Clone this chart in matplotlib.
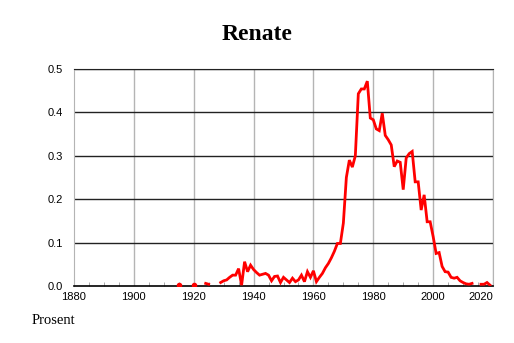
import numpy as np
import matplotlib
matplotlib.use("Agg")
import matplotlib.pyplot as plt
from matplotlib.ticker import MultipleLocator, FixedLocator

# share of people named Renate per year (percent), nan = no data
title = "Renate"
ylabel = "Prosent"
years = np.arange(1915, 2020)
values = [
    0.002, np.nan, np.nan, np.nan, np.nan,                                      # 1915-1919
    0.002, np.nan, np.nan, np.nan, 0.006, 0.004, np.nan, np.nan, np.nan, 0.008,  # 1920-1929
    0.012, 0.014, 0.020, 0.025, 0.025, 0.040, 0.002, 0.056, 0.033, 0.048,       # 1930-1939
    0.038, 0.031, 0.025, 0.027, 0.029, 0.025, 0.012, 0.022, 0.023, 0.008,       # 1940-1949
    0.020, 0.014, 0.008, 0.018, 0.010, 0.014, 0.025, 0.010, 0.033, 0.020,       # 1950-1959
    0.035, 0.010, 0.020, 0.029, 0.042, 0.052, 0.065, 0.080, 0.098, 0.098,       # 1960-1969
    0.145, 0.250, 0.290, 0.274, 0.300, 0.443, 0.454, 0.454, 0.472, 0.387,       # 1970-1979
    0.383, 0.362, 0.358, 0.398, 0.347, 0.337, 0.325, 0.275, 0.288, 0.285,       # 1980-1989
    0.222, 0.295, 0.305, 0.310, 0.240, 0.240, 0.175, 0.210, 0.148, 0.148,       # 1990-1999
    0.114, 0.075, 0.077, 0.045, 0.033, 0.032, 0.020, 0.018, 0.020, 0.012,       # 2000-2009
    0.008, 0.005, 0.004, 0.006, np.nan, np.nan, 0.004, 0.004, 0.008, 0.002,     # 2010-2019
]
values = np.array(values, dtype=float)
assert len(values) == len(years)

x_ticks = [1880, 1900, 1920, 1940, 1960, 1980, 2000, 2020]
y_ticks = [0.0, 0.1, 0.2, 0.3, 0.4, 0.5]

fig = plt.figure(figsize=(5.14, 3.43), dpi=100)
ax = fig.add_axes([74 / 514, 1 - 286 / 343, (493 - 74) / 514, (286 - 69) / 343])

# grid: grey verticals, black horizontals
for xv in x_ticks[1:]:
    ax.axvline(xv, color="#b4b4b4", lw=1, zorder=1)
for yv in y_ticks[1:]:
    ax.axhline(yv, color="#222222", lw=1, zorder=1)

ax.plot(years, values, color="#ff0000", lw=2, zorder=3, solid_joinstyle="miter")

# single years with no neighbours show up as dots
prev = np.r_[np.nan, values[:-1]]
nxt = np.r_[values[1:], np.nan]
lone = ~np.isnan(values) & np.isnan(prev) & np.isnan(nxt)
ax.plot(years[lone], values[lone], "o", color="#ff0000", ms=3, zorder=3)

ax.set_xlim(1880, 2020)
ax.set_ylim(0, 0.5)
ax.xaxis.set_major_locator(FixedLocator(x_ticks))
ax.xaxis.set_minor_locator(MultipleLocator(5))
ax.yaxis.set_major_locator(FixedLocator(y_ticks))
ax.set_yticklabels([f"{v:.1f}" for v in y_ticks])

ax.tick_params(axis="x", which="major", length=0, pad=4, labelsize=8)
ax.tick_params(axis="x", which="minor", direction="in", length=3, color="#999999")
ax.tick_params(axis="y", length=0, pad=8, labelsize=8)
for lab in ax.get_xticklabels() + ax.get_yticklabels():
    lab.set_fontfamily("Liberation Sans")
ax.get_xticklabels()[-1].set_horizontalalignment("right")

ax.spines["left"].set_color("#b4b4b4")
ax.spines["right"].set_color("#b4b4b4")
ax.spines["top"].set_color("#222222")
ax.spines["bottom"].set_color("#000000")
ax.spines["bottom"].set_linewidth(1.2)

fig.text(0.5, 1 - 35 / 343, title, ha="center", va="center",
         fontsize=17, fontweight="bold", fontfamily="Liberation Serif")
fig.text(32 / 514, 1 - 320 / 343, ylabel, ha="left", va="center",
         fontsize=10.5, fontfamily="Liberation Serif")

fig.savefig("out.png", dpi=100)
